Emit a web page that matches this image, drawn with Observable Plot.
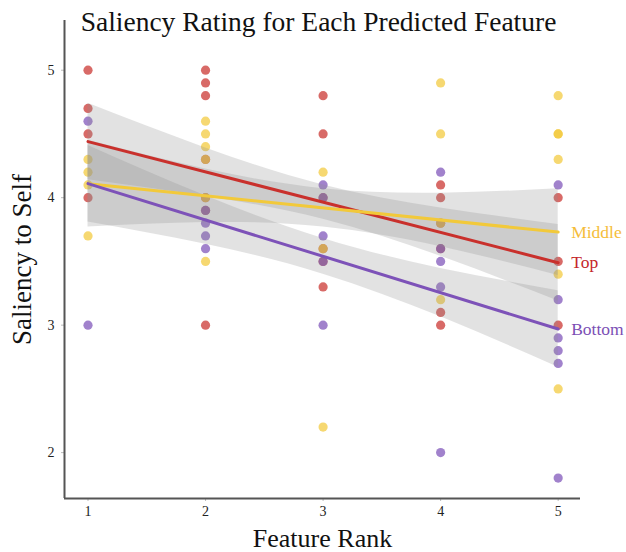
<!DOCTYPE html>
<html>
<head>
<meta charset="utf-8">
<script src="https://cdn.jsdelivr.net/npm/d3@7"></script>
<script src="https://cdn.jsdelivr.net/npm/@observablehq/plot@0.6"></script>
<style>
  html, body { margin: 0; padding: 0; background: #fff; }
  #chart { width: 626px; height: 552px; }
</style>
</head>
<body>
<div id="chart"></div>
<script>
// ---- data ----
const title = "Saliency Rating for Each Predicted Feature";
const xLabel = "Feature Rank";
const yLabel = "Saliency to Self";
const groups = ["Top", "Middle", "Bottom"];
const groupColors = ["#c9302c", "#f2c93a", "#7d52b8"];
const labelColors = ["#c4262b", "#f5bd3a", "#7b4fb5"];
const xTicks = [1, 2, 3, 4, 5];
const yTicks = [2, 3, 4, 5];

// scatter points (rank, rating) per group
const topRank    = [1,1,1,1, 2,2,2,2,2,2,2, 3,3,3,3,3,3, 4,4,4,4,4,4, 5,5,5];
const topRating  = [5.0,4.7,4.5,4.0, 5.0,4.9,4.8,4.3,4.0,3.9,3.0, 4.8,4.5,4.0,3.6,3.5,3.3, 4.1,4.0,3.8,3.6,3.1,3.0, 4.0,3.5,3.0];
const midRank    = [1,1,1,1, 2,2,2,2,2,2, 3,3,3, 4,4,4,4, 5,5,5,5,5,5];
const midRating  = [4.3,4.2,4.1,3.7, 4.6,4.5,4.4,4.3,4.0,3.5, 4.2,3.6,2.2, 4.9,4.5,3.8,3.2, 4.8,4.5,4.5,4.3,3.4,2.5];
const botRank    = [1,1, 2,2,2,2, 3,3,3,3,3, 4,4,4,4,4, 5,5,5,5,5,5];
const botRating  = [4.6,3.0, 3.9,3.8,3.7,3.6, 4.1,4.0,3.7,3.5,3.0, 4.2,3.6,3.5,3.3,2.0, 4.1,3.2,2.9,2.8,2.7,1.8];

// fitted lines (ends at rank 1 and 5)
const fitRank = [1, 5];
const topFit = [4.44, 3.49];
const midFit = [4.11, 3.73];
const botFit = [4.11, 2.97];

// confidence bands at each rank
const bandRank = [1, 2, 3, 4, 5];
const topLower = [4.14, 4.01, 3.83, 3.54, 3.19];
const topUpper = [4.74, 4.39, 4.10, 3.92, 3.79];
const midLower = [3.77, 3.805, 3.77, 3.615, 3.39];
const midUpper = [4.45, 4.225, 4.07, 4.035, 4.07];
const botLower = [3.81, 3.635, 3.40, 3.065, 2.67];
const botUpper = [4.41, 4.015, 3.68, 3.445, 3.27];

// ---- build tables ----
const pts = [];
[[topRank, topRating, "Top"], [midRank, midRating, "Middle"], [botRank, botRating, "Bottom"]]
  .forEach(([rs, vs, g]) => rs.forEach((r, i) => pts.push({rank: r, rating: vs[i], group: g})));
const fits = [];
[[topFit, "Top"], [midFit, "Middle"], [botFit, "Bottom"]]
  .forEach(([vs, g]) => fitRank.forEach((r, i) => fits.push({rank: r, value: vs[i], group: g})));
const bands = [];
[[topLower, topUpper, "Top"], [midLower, midUpper, "Middle"], [botLower, botUpper, "Bottom"]]
  .forEach(([lo, hi, g]) => bandRank.forEach((r, i) => bands.push({rank: r, lo: lo[i], hi: hi[i], group: g})));
const ends = [
  {group: "Middle", value: midFit[1], color: labelColors[1]},
  {group: "Top", value: topFit[1], color: labelColors[0]},
  {group: "Bottom", value: botFit[1], color: labelColors[2]}
];

const xDomain = [0.8, 5.19];
const yDomain = [1.64, 5.39];
const font = "'Liberation Serif', 'DejaVu Serif', serif";

const chart = Plot.plot({
  width: 626,
  height: 552,
  marginLeft: 64,
  marginRight: 46,
  marginTop: 20,
  marginBottom: 54,
  style: {fontFamily: font, background: "#fff", color: "#222"},
  x: {domain: xDomain},
  y: {domain: yDomain},
  color: {domain: groups, range: groupColors},
  marks: [
    Plot.axisX(xTicks, {tickSize: 3, tickPadding: 5, fontSize: 14, stroke: "#bbb", fill: "#222", label: null, tickFormat: d => String(d)}),
    Plot.axisY(yTicks, {tickSize: 3, tickPadding: 7, fontSize: 14, stroke: "#bbb", fill: "#222", label: null, tickFormat: d => String(d)}),
    Plot.dot(pts, {x: "rank", y: "rating", fill: "group", r: 4.6, fillOpacity: 0.72}),
    Plot.areaY(bands, {x: "rank", y1: "lo", y2: "hi", z: "group", fill: "#8f8f8f", fillOpacity: 0.26, curve: "natural"}),
    Plot.line(fits, {x: "rank", y: "value", z: "group", stroke: "group", strokeWidth: 3}),
    Plot.text(ends, {x: () => fitRank[1], y: "value", text: "group", fill: "color", textAnchor: "start", dx: 13, fontSize: 17.5}),
    Plot.ruleX([xDomain[0]], {stroke: "#555", strokeWidth: 2}),
    Plot.ruleY([yDomain[0]], {stroke: "#555", strokeWidth: 2}),
    Plot.text([xLabel], {frameAnchor: "bottom", lineAnchor: "middle", textAnchor: "middle", dy: 40, fontSize: 26, fill: "#111"}),
    Plot.text([yLabel], {frameAnchor: "left", lineAnchor: "middle", textAnchor: "middle", dx: -42, rotate: -90, fontSize: 27, fill: "#111"}),
    Plot.text([title], {frameAnchor: "top", lineAnchor: "middle", textAnchor: "middle", dx: -4, dy: 2, fontSize: 27.5, fill: "#111"})
  ]
});
document.getElementById("chart").appendChild(chart);
</script>
</body>
</html>
